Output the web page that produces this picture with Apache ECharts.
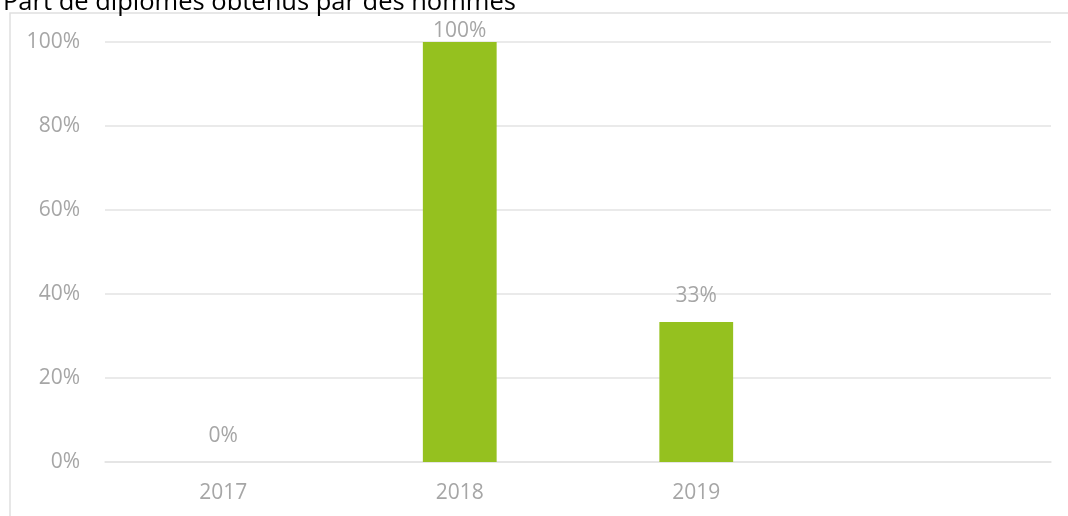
<!DOCTYPE html>
<html>
<head>
<meta charset="utf-8">
<script src="https://cdn.jsdelivr.net/npm/echarts@6/dist/echarts.min.js"></script>
<style>html,body{margin:0;padding:0;background:#fff;}#c{width:1068px;height:516px;}</style>
</head>
<body>
<div id="c"></div>
<script>
const titleText = 'Part de diplômés obtenus par des hommes';
const categories = ['2017', '2018', '2019', ''];
const shareMen = [0, 100, 33.33, null];
const yTicks = [0, 20, 40, 60, 80, 100];

const chart = echarts.init(document.getElementById('c'));
const FONT = 'Open Sans';
const seriesData = shareMen.map(function (v) {
  if (v === null) return { value: null };
  return { value: v, label: { distance: v >= 100 ? 0 : 15 } };
});
chart.setOption({
  animation: false,
  title: {
    text: titleText, left: -2, top: -15,
    textStyle: { fontFamily: FONT, fontSize: 25.5, fontWeight: 'normal', color: '#000' }
  },
  graphic: [{
    type: 'rect', silent: true, z: -1,
    shape: { x: 10, y: 13, width: 2000, height: 2000 },
    style: { fill: 'none', stroke: '#e0e0e0', lineWidth: 1.5 }
  }],
  grid: { left: 105, right: 17, top: 42, bottom: 54 },
  xAxis: {
    type: 'category', data: categories,
    axisLine: { lineStyle: { color: '#e3e3e3', width: 1.5 } },
    axisTick: { show: false },
    axisLabel: { color: '#a6a6a6', fontFamily: FONT, fontSize: 21, margin: 21 }
  },
  yAxis: {
    type: 'value', min: yTicks[0], max: yTicks[yTicks.length - 1], interval: yTicks[1] - yTicks[0],
    axisLine: { show: false }, axisTick: { show: false },
    splitLine: { lineStyle: { color: '#e3e3e3', width: 1.5 } },
    axisLabel: { color: '#a6a6a6', fontFamily: FONT, fontSize: 21, margin: 25, formatter: '{value}%' }
  },
  series: [{
    type: 'bar', data: seriesData, barWidth: '31.2%',
    itemStyle: { color: '#95c11f' },
    label: {
      show: true, position: 'top', color: '#a6a6a6', fontFamily: FONT, fontSize: 21,
      formatter: function (p) { return Math.round(p.value) + '%'; }
    }
  }]
});
</script>
</body>
</html>
